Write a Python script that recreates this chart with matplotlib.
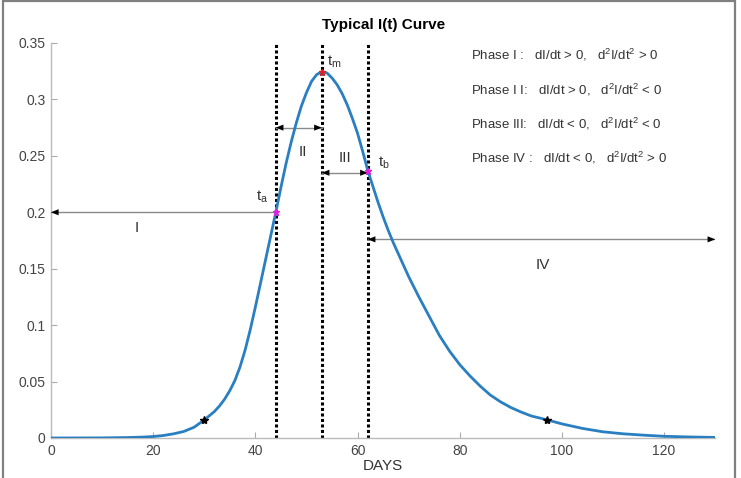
"""Typical I(t) curve with the four phases marked (ta, tm, tb)."""

import matplotlib
matplotlib.use("Agg")
import matplotlib.pyplot as plt
from matplotlib.patches import Rectangle

# ── Style ──────────────────────────────────────────────────────────────────
plt.rcParams.update({
    "font.family": ["Liberation Sans", "DejaVu Sans"],
    "mathtext.fontset": "custom",
    "mathtext.rm": "Liberation Sans",
    "mathtext.it": "Liberation Sans:italic",
    "font.size": 10,
})

# ── Data ──────────────────────────────────────────────────────────────────
days = [0, 5, 10, 15, 18, 20, 22, 24, 26, 28, 30, 32, 33, 34, 35, 36, 37,
        38, 39, 40, 41, 42, 43, 44, 45, 46, 47, 48, 49, 50, 51, 52, 53, 54,
        55, 56, 57, 58, 59, 60, 61, 62, 63, 64, 65, 66, 67, 68, 69, 70, 72,
        74, 76, 78, 80, 82, 84, 86, 88, 90, 92, 94, 97, 100, 104, 108, 112,
        116, 120, 125, 130]
infected = [0.0, 0.00005, 0.0001, 0.0004, 0.0008, 0.0013, 0.0022, 0.0037,
            0.0058, 0.0095, 0.016, 0.0235, 0.0285, 0.0345, 0.042, 0.051,
            0.063, 0.078, 0.096, 0.116, 0.137, 0.158, 0.179, 0.2, 0.222,
            0.243, 0.262, 0.279, 0.294, 0.306, 0.316, 0.322, 0.3245, 0.3235,
            0.319, 0.313, 0.305, 0.295, 0.283, 0.27, 0.254, 0.237, 0.223,
            0.209, 0.196, 0.184, 0.173, 0.163, 0.153, 0.143, 0.125, 0.108,
            0.091, 0.077, 0.065, 0.055, 0.046, 0.038, 0.032, 0.027, 0.023,
            0.0195, 0.0162, 0.0125, 0.0085, 0.0055, 0.0037, 0.0025, 0.0015,
            0.0009, 0.0005]

# characteristic times ta, tm, tb and their I values
t_marks = [44, 53, 62]
i_marks = [0.2, 0.3245, 0.237]
mark_colors = ["#e020e0", "#e02020", "#e020e0"]
mark_names = ["t$_{\\mathrm{a}}$", "t$_{\\mathrm{m}}$", "t$_{\\mathrm{b}}$"]

# low-level reference points (black stars)
star_days = [30, 97]
star_vals = [0.016, 0.0162]

# phase arrows: start, end, height, heads
arrow_x0 = [0, 44, 53, 62]
arrow_x1 = [44, 53, 62, 130]
arrow_y = [0.2, 0.275, 0.235, 0.176]
head_left = [True, True, True, True]
head_right = [False, True, True, True]

phase_labels = ["I", "II", "III", "IV"]
phase_label_x = [16.7, 49.3, 57.6, 96.3]
phase_label_y = [0.186, 0.253, 0.248, 0.153]

phase_text = [
    "Phase I :   dI/dt > 0,   d$^2$I/dt$^2$ > 0",
    "Phase I I:   dI/dt > 0,   d$^2$I/dt$^2$ < 0",
    "Phase III:   dI/dt < 0,   d$^2$I/dt$^2$ < 0",
    "Phase IV :   dI/dt < 0,   d$^2$I/dt$^2$ > 0",
]
phase_text_y = [0.339, 0.308, 0.278, 0.248]

x_ticks = [0, 20, 40, 60, 80, 100, 120]
y_ticks = [0, 0.05, 0.1, 0.15, 0.2, 0.25, 0.3, 0.35]
y_tick_labels = ["0", "0.05", "0.1", "0.15", "0.2", "0.25", "0.3", "0.35"]

# ── Plot ──────────────────────────────────────────────────────────────────
fig = plt.figure(figsize=(7.41, 4.78), dpi=100)
ax = fig.add_axes([0.0688, 0.0837, 0.8964, 0.8264])

# vertical dotted lines at ta, tm, tb
for t in t_marks:
    ax.plot([t, t], [0, 0.35], color="black", lw=2.2,
            linestyle=(0, (1.0, 0.8)), zorder=2)

# phase arrows: grey shaft, black heads
head = "-|>,head_length=0.55,head_width=0.22"
for x0, x1, y, hl, hr in zip(arrow_x0, arrow_x1, arrow_y, head_left, head_right):
    ax.plot([x0, x1], [y, y], color="#8a8a8a", lw=1.0, zorder=3)
    if hl:
        ax.annotate("", xy=(x0, y), xytext=(x0 + 2, y),
                    arrowprops=dict(arrowstyle=head, color="black", lw=0,
                                    shrinkA=0, shrinkB=0), zorder=4)
    if hr:
        ax.annotate("", xy=(x1, y), xytext=(x1 - 2, y),
                    arrowprops=dict(arrowstyle=head, color="black", lw=0,
                                    shrinkA=0, shrinkB=0), zorder=4)

# the curve
ax.plot(days, infected, color="#2a7fc1", lw=2, zorder=5)

# markers
ax.plot(star_days, star_vals, linestyle="none", marker="*", color="black",
        markersize=6, zorder=6)
for t, v, c in zip(t_marks, i_marks, mark_colors):
    ax.plot(t, v, linestyle="none", marker="*", color=c, markersize=5, zorder=6)

# t labels
ax.text(41.4, 0.2135, mark_names[0], fontsize=11, color="#333333",
        ha="center", va="center")
ax.text(55.4, 0.333, mark_names[1], fontsize=11, color="#333333",
        ha="center", va="center")
ax.text(65.2, 0.244, mark_names[2], fontsize=11, color="#333333",
        ha="center", va="center")

for lab, x, y in zip(phase_labels, phase_label_x, phase_label_y):
    ax.text(x, y, lab, fontsize=11, color="#333333", ha="center", va="center")

for txt, y in zip(phase_text, phase_text_y):
    ax.text(82.2, y, txt, fontsize=9.5, color="#333333", ha="left", va="center")

ax.set_xlim(0, 130)
ax.set_ylim(0, 0.35)
ax.set_xticks(x_ticks)
ax.set_yticks(y_ticks)
ax.set_yticklabels(y_tick_labels)
ax.tick_params(direction="in", length=4, color="#aaaaaa", labelcolor="#444444",
               labelsize=10, pad=4)
for s in ["top", "right"]:
    ax.spines[s].set_visible(False)
for s in ["left", "bottom"]:
    ax.spines[s].set_color("#bbbbbb")
    ax.spines[s].set_linewidth(1.0)

ax.set_xlabel("DAYS", fontsize=11, color="#333333", labelpad=1)
ax.set_title("Typical I(t) Curve", fontsize=11, fontweight="bold", pad=10)

# grey frame round the whole picture
fig.patches.append(Rectangle((3 / 741, -0.01), 732 / 741, 1.008,
                             transform=fig.transFigure, fill=False,
                             edgecolor="#808080", lw=1.6))

fig.savefig("out.png", dpi=100)
